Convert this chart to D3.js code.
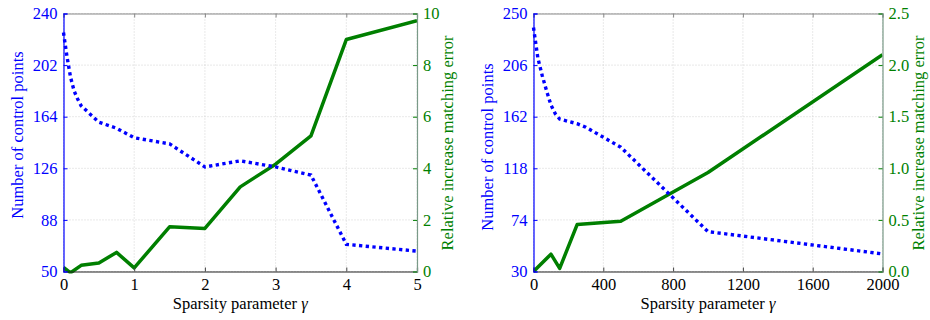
<!DOCTYPE html>
<html><head><meta charset="utf-8">
<script src="https://cdn.jsdelivr.net/npm/d3@7/dist/d3.min.js"></script>
<style>body{margin:0;background:#fff}svg{display:block}text{font-family:"Liberation Serif","Times New Roman","DejaVu Serif",serif}</style>
</head><body><svg id="c" width="930" height="320"></svg>
<script>
// Left chart data
const leftGamma = [0, 0.05, 0.1, 0.15, 0.2, 0.25, 0.5, 0.75, 1, 1.5, 2, 2.5, 3, 3.5, 4, 5];
const leftPoints = [226, 208, 193, 183, 177, 172, 160, 155.5, 148.5, 144, 127, 131.5, 127, 121, 70, 65];
const leftErrGamma = [0, 0.1, 0.25, 0.5, 0.75, 1, 1.5, 2, 2.5, 3, 3.5, 4, 5];
const leftErr = [0.16, -0.05, 0.24, 0.33, 0.74, 0.14, 1.73, 1.67, 3.28, 4.16, 5.26, 8.99, 9.72];
const leftXTicks = [0, 1, 2, 3, 4, 5];
const leftYTicks = [50, 88, 126, 164, 202, 240];
const leftY2Ticks = [0, 2, 4, 6, 8, 10];

// Right chart data
const rightGamma = [0, 25, 50, 75, 100, 125, 150, 200, 250, 300, 500, 1000, 2000];
const rightPoints = [238, 212, 197, 184, 172, 164.5, 160, 158, 156, 153, 136, 64, 45];
const rightErrGamma = [0, 100, 150, 250, 500, 1000, 2000];
const rightErr = [0.0, 0.168, 0.03, 0.455, 0.487, 0.96, 2.10];
const rightXTicks = [0, 400, 800, 1200, 1600, 2000];
const rightYTicks = [30, 74, 118, 162, 206, 250];
const rightY2Ticks = [0, 0.5, 1.0, 1.5, 2.0, 2.5];

const BLUE = "#0000ff", GREEN = "#007f00";
const FONT = '"Liberation Serif","Times New Roman","DejaVu Serif",serif';
const svg = d3.select("#c");

function panel(o) {
  const x = d3.scaleLinear().domain(o.xd).range([o.x0, o.x1]);
  const y = d3.scaleLinear().domain(o.yd).range([o.y1, o.y0]);
  const y2 = d3.scaleLinear().domain(o.y2d).range([o.y1, o.y0]);
  const g = svg.append("g").attr("font-family", FONT);
  // grid
  g.selectAll(".gx").data(o.xt).join("line")
    .attr("x1", d => x(d)).attr("x2", d => x(d)).attr("y1", o.y0).attr("y2", o.y1)
    .attr("stroke", "#c8c8c8").attr("stroke-width", 0.8).attr("stroke-dasharray", "1,2");
  g.selectAll(".gy").data(o.yt).join("line")
    .attr("x1", o.x0).attr("x2", o.x1).attr("y1", d => y(d)).attr("y2", d => y(d))
    .attr("stroke", "#c8c8c8").attr("stroke-width", 0.8).attr("stroke-dasharray", "1,2");
  // clip
  const cid = "clip" + o.id;
  svg.append("clipPath").attr("id", cid).append("rect")
    .attr("x", o.x0).attr("y", o.y0 - 2).attr("width", o.x1 - o.x0).attr("height", o.y1 - o.y0 + 4);
  // green line
  g.append("path").datum(o.eg.map((d, i) => [d, o.ev[i]]))
    .attr("clip-path", `url(#${cid})`)
    .attr("fill", "none").attr("stroke", GREEN).attr("stroke-width", 3.5).attr("stroke-linejoin", "round")
    .attr("d", d3.line().x(d => x(d[0])).y(d => y2(d[1])));
  // blue dotted
  g.append("path").datum(o.pg.map((d, i) => [d, o.pv[i]]))
    .attr("fill", "none").attr("stroke", BLUE).attr("stroke-width", 3.4).attr("stroke-dasharray", "3.3,3.4")
    .attr("d", d3.line().x(d => x(d[0])).y(d => y(d[1])));
  // axes
  const xb = g.append("g").attr("transform", `translate(0,${o.y1})`)
    .call(d3.axisBottom(x).tickValues(o.xt).tickSize(-4).tickPadding(7).tickFormat(d3.format("d")));
  xb.select(".domain").attr("stroke", "#222");
  xb.selectAll("text").attr("fill", "#000");
  xb.selectAll(".tick line").attr("stroke", "#444");
  const xt = g.append("g").attr("transform", `translate(0,${o.y0})`)
    .call(d3.axisTop(x).tickValues(o.xt).tickSize(-4).tickFormat(""));
  xt.select(".domain").attr("stroke", "#888");
  xt.selectAll(".tick line").attr("stroke", "#888");
  const yl = g.append("g").attr("transform", `translate(${o.x0},0)`)
    .call(d3.axisLeft(y).tickValues(o.yt).tickSize(-4).tickPadding(6).tickFormat(d3.format("d")));
  yl.select(".domain").attr("stroke", BLUE);
  yl.selectAll(".tick line").attr("stroke", BLUE);
  yl.selectAll("text").attr("fill", BLUE);
  const yr = g.append("g").attr("transform", `translate(${o.x1},0)`)
    .call(d3.axisRight(y2).tickValues(o.y2t).tickSize(-4).tickPadding(6).tickFormat(o.f2));
  yr.select(".domain").attr("stroke", "#7a9a88");
  yr.selectAll(".tick line").attr("stroke", GREEN);
  yr.selectAll("text").attr("fill", GREEN);
  [xb, xt, yl, yr].forEach(a => {
    a.attr("font-family", FONT).attr("font-size", "16.5px");
    a.select(".domain").attr("stroke-width", 1.2);
  });
  // titles
  const xtl = g.append("text").attr("x", (o.x0 + o.x1) / 2).attr("y", 309)
    .attr("text-anchor", "middle").attr("font-size", "16.5px").attr("fill", "#000");
  xtl.append("tspan").text("Sparsity parameter ");
  xtl.append("tspan").attr("font-style", "italic").text("γ");
  g.append("text").attr("transform", `translate(${o.ylx},${o.ylc}) rotate(-90)`)
    .attr("text-anchor", "middle").attr("font-size", "16.5px").attr("fill", BLUE)
    .text("Number of control points");
  g.append("text").attr("transform", `translate(${o.y2lx},${o.y2lc}) rotate(-90)`)
    .attr("text-anchor", "middle").attr("font-size", "16.5px").attr("fill", GREEN)
    .text("Relative increase matching error");
}

panel({id: "L", x0: 63.5, x1: 417, y0: 13.5, y1: 271.5,
  xd: [0, 5], yd: [50, 240], y2d: [0, 10],
  xt: leftXTicks, yt: leftYTicks, y2t: leftY2Ticks, f2: d3.format("d"),
  pg: leftGamma, pv: leftPoints, eg: leftErrGamma, ev: leftErr,
  ylx: 22.5, ylc: 135, y2lx: 453, y2lc: 143});
panel({id: "R", x0: 533.5, x1: 882.5, y0: 13.5, y1: 271.5,
  xd: [0, 2000], yd: [30, 250], y2d: [0, 2.5],
  xt: rightXTicks, yt: rightYTicks, y2t: rightY2Ticks, f2: d3.format(".1f"),
  pg: rightGamma, pv: rightPoints, eg: rightErrGamma, ev: rightErr,
  ylx: 492.5, ylc: 147, y2lx: 924, y2lc: 143});
</script></body></html>
